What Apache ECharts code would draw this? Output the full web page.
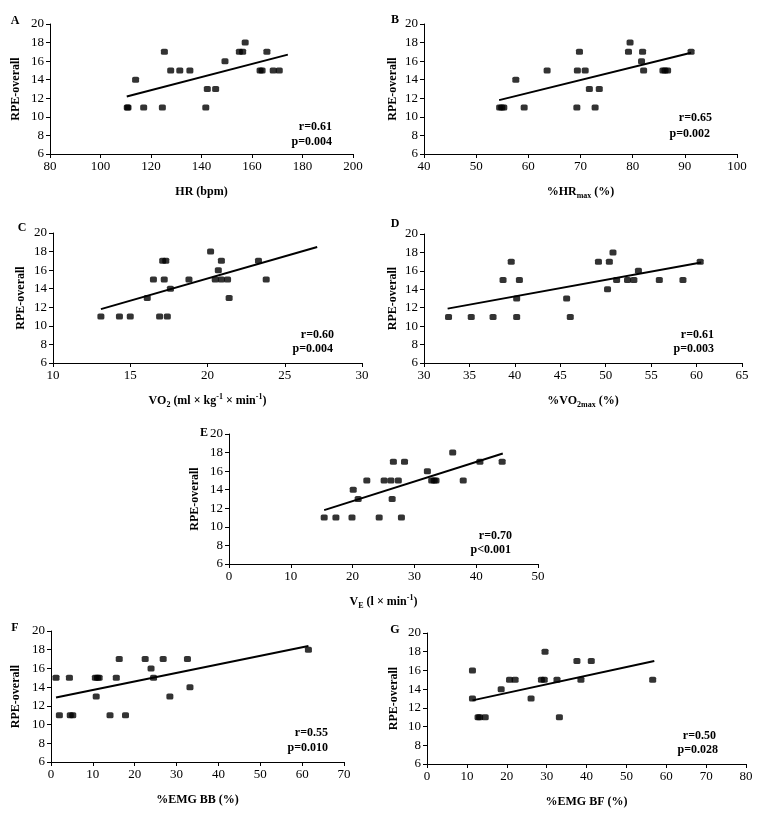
<!DOCTYPE html>
<html><head><meta charset="utf-8">
<script src="https://cdn.jsdelivr.net/npm/echarts@6/dist/echarts.min.js"></script>
<style>html,body{margin:0;padding:0;background:#fff}#c{width:763px;height:821px}</style>
</head><body><div id="c"></div>
<script>
// ---- data ----
const rpeRange = [6, 20];

const hrX = [110.6,110.9,113.9,117.1,124.5,125.3,127.8,131.4,135.4,141.7,142.3,145.6,149.3,155.0,156.3,157.3,163.2,164.0,165.9,168.4,170.8];
const hrY = [11,11,14,11,11,17,15,15,15,11,13,13,16,17,17,18,15,15,17,15,15];
const hrFitX = [110.4, 174.2];
const hrFitY = [12.2, 16.7];

const hrmaxX = [54.5,54.9,55.3,57.6,59.2,63.6,69.3,69.4,69.8,70.9,71.7,72.8,73.6,79.2,79.5,81.7,81.9,82.1,85.8,86.2,86.7,91.2];
const hrmaxY = [11,11,11,14,11,15,11,15,17,15,13,11,13,17,18,16,17,15,15,15,15,17];
const hrmaxFitX = [54.4, 91.2];
const hrmaxFitY = [11.8, 16.9];

const vo2X = [13.1,14.3,15.0,16.1,16.5,16.9,17.1,17.3,17.2,17.4,17.6,18.8,20.2,20.5,20.7,20.9,20.9,21.3,21.4,23.3,23.8];
const vo2Y = [11,11,11,13,15,11,17,17,15,11,14,15,18,15,16,17,15,15,13,17,15];
const vo2FitX = [13.1, 27.1];
const vo2FitY = [11.8, 18.5];

const vo2maxX = [32.7,35.2,37.6,38.7,39.6,40.2,40.2,40.5,45.7,46.1,49.2,50.2,50.4,50.8,51.2,52.4,53.1,53.6,55.9,58.5,60.4];
const vo2maxY = [11,11,11,15,17,11,13,15,13,11,17,14,17,18,15,15,15,16,15,15,17];
const vo2maxFitX = [32.6, 60.5];
const vo2maxFitY = [11.9, 16.9];

const veX = [15.4,17.3,19.9,20.1,20.9,22.3,24.3,25.1,26.2,26.4,26.6,27.4,27.9,28.4,32.1,32.8,33.2,33.5,36.2,37.9,40.6,44.2];
const veY = [11,11,11,14,13,15,11,15,15,13,17,15,11,17,16,15,15,15,18,15,17,17];
const veFitX = [15.4, 44.3];
const veFitY = [11.8, 17.9];

const bbX = [1.2,2.0,4.4,4.6,5.2,10.8,10.6,11.1,11.5,14.1,15.6,16.3,17.8,22.5,23.9,24.5,26.8,28.4,32.6,33.2,61.5];
const bbY = [15,11,15,11,11,13,15,15,15,11,15,17,11,17,16,15,17,13,17,14,18];
const bbFitX = [1.2, 61.5];
const bbFitY = [12.9, 18.4];

const bfX = [11.4,11.4,12.8,13.2,14.6,18.6,20.7,22.1,26.1,28.7,29.4,29.6,32.6,33.2,37.6,38.6,41.2,56.6];
const bfY = [16,13,11,11,11,14,15,15,13,15,15,18,15,11,17,15,17,15];
const bfFitX = [11.4, 57.0];
const bfFitY = [12.8, 17.0];

const letters = ['A','B','C','D','E','F','G'];
const xNames = ['HR (bpm)', '%HR{s|max} (%)', 'VO{s|2} (ml × kg{p|-1} × min{p|-1})', '%VO{s|2max} (%)', 'V{s|E} (l × min{p|-1})', '%EMG BB (%)', '%EMG BF (%)'];
const xMins = [80, 40, 10, 30, 0, 0, 0];
const xMaxs = [200, 100, 30, 65, 50, 70, 80];
const xSteps = [20, 10, 5, 5, 10, 10, 10];
const rTexts = ['r=0.61','r=0.65','r=0.60','r=0.61','r=0.70','r=0.55','r=0.50'];
const pTexts = ['p=0.004','p=0.002','p=0.004','p=0.003','p<0.001','p=0.010','p=0.028'];

// ---- layout ----
const FONT = '"Liberation Serif", "Times New Roman", serif';
const panels = [
  {x: hrX, y: hrY, fx: hrFitX, fy: hrFitY, g: {left: 50, top: 24, width: 303, height: 130}, yGap: 26, letter: [15, 21], r: [332, 127], p: [332, 142]},
  {x: hrmaxX, y: hrmaxY, fx: hrmaxFitX, fy: hrmaxFitY, g: {left: 424, top: 24, width: 313, height: 130}, yGap: 22, letter: [395, 20], r: [712, 118], p: [710, 134]},
  {x: vo2X, y: vo2Y, fx: vo2FitX, fy: vo2FitY, g: {left: 53, top: 233, width: 309, height: 130}, yGap: 24, letter: [22, 228], r: [334, 335], p: [333, 349]},
  {x: vo2maxX, y: vo2maxY, fx: vo2maxFitX, fy: vo2maxFitY, g: {left: 424, top: 234, width: 318, height: 129}, yGap: 22, letter: [395, 224], r: [714, 335], p: [714, 349]},
  {x: veX, y: veY, fx: veFitX, fy: veFitY, g: {left: 229, top: 434, width: 309, height: 130}, yGap: 26, letter: [204, 433], r: [512, 536], p: [511, 550]},
  {x: bbX, y: bbY, fx: bbFitX, fy: bbFitY, g: {left: 51, top: 631, width: 293, height: 131}, yGap: 27, letter: [15, 628], r: [328, 733], p: [328, 748]},
  {x: bfX, y: bfY, fx: bfFitX, fy: bfFitY, g: {left: 427, top: 633, width: 319, height: 131}, yGap: 25, letter: [395, 630], r: [716, 736], p: [718, 750]}
];

const grid = [], xAxis = [], yAxis = [], series = [], graphic = [];
const axisLine = {show: true, lineStyle: {color: '#000', width: 1}};
const axisTick = {show: true, length: 4, lineStyle: {color: '#000'}};
const labelStyle = {color: '#000', fontFamily: FONT, fontSize: 13};
const nameStyle = {
  color: '#000', fontFamily: FONT, fontSize: 12, fontWeight: 'bold', lineHeight: 16,
  rich: {
    s: {fontSize: 8, fontFamily: FONT, fontWeight: 'bold', color: '#000', verticalAlign: 'bottom', lineHeight: 16},
    p: {fontSize: 8, fontFamily: FONT, fontWeight: 'bold', color: '#000', verticalAlign: 'top', lineHeight: 16}
  }
};

panels.forEach((pn, i) => {
  grid.push(Object.assign({containLabel: false, outerBoundsMode: 'none'}, pn.g));
  xAxis.push({
    type: 'value', gridIndex: i, min: xMins[i], max: xMaxs[i], interval: xSteps[i],
    name: xNames[i], nameLocation: 'middle', nameGap: 30, nameTextStyle: nameStyle,
    axisLine: axisLine, axisTick: axisTick, splitLine: {show: false},
    axisLabel: Object.assign({margin: 6}, labelStyle)
  });
  yAxis.push({
    type: 'value', gridIndex: i, min: rpeRange[0], max: rpeRange[1], interval: 2,
    name: 'RPE-overall', nameLocation: 'middle', nameRotate: 90, nameGap: pn.yGap, nameTextStyle: nameStyle,
    axisLine: axisLine, axisTick: axisTick, splitLine: {show: false},
    axisLabel: Object.assign({margin: 6}, labelStyle)
  });
  series.push({
    type: 'scatter', xAxisIndex: i, yAxisIndex: i,
    symbol: 'roundRect', symbolSize: [7, 6],
    itemStyle: {color: '#000'},
    data: pn.x.map((v, k) => [v, pn.y[k]])
  });
  series.push({
    type: 'line', xAxisIndex: i, yAxisIndex: i, symbol: 'none',
    lineStyle: {color: '#000', width: 2},
    data: pn.fx.map((v, k) => [v, pn.fy[k]])
  });
  graphic.push({type: 'text', x: pn.letter[0], y: pn.letter[1],
    style: {text: letters[i], fill: '#000', font: 'bold 12px ' + FONT, align: 'center', verticalAlign: 'middle'}});
  graphic.push({type: 'text', x: pn.r[0], y: pn.r[1],
    style: {text: rTexts[i], fill: '#000', font: 'bold 12px ' + FONT, align: 'right', verticalAlign: 'middle'}});
  graphic.push({type: 'text', x: pn.p[0], y: pn.p[1],
    style: {text: pTexts[i], fill: '#000', font: 'bold 12px ' + FONT, align: 'right', verticalAlign: 'middle'}});
});

const chart = echarts.init(document.getElementById('c'), null, {renderer: 'canvas'});
chart.setOption({
  animation: false,
  backgroundColor: '#fff',
  grid: grid, xAxis: xAxis, yAxis: yAxis, series: series, graphic: graphic
});
</script>
</body></html>
